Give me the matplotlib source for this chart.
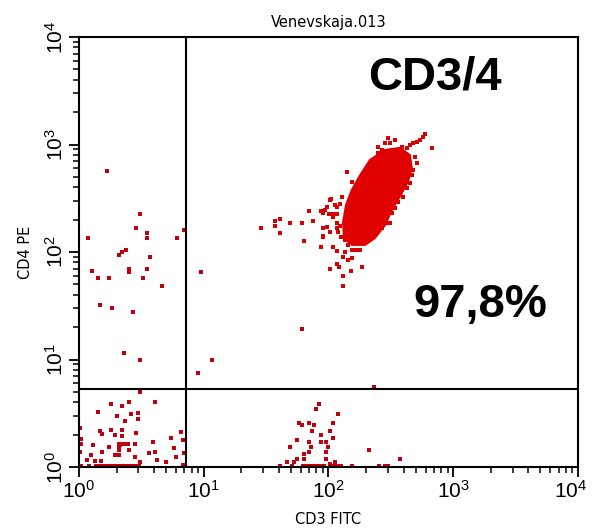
import numpy as np
import matplotlib
matplotlib.use("Agg")
import matplotlib.pyplot as plt
from matplotlib.ticker import LogLocator, FuncFormatter, NullFormatter
from matplotlib.transforms import ScaledTranslation

plt.rcParams["font.family"] = ["Liberation Sans", "DejaVu Sans"]

# --- events, stored as 1024-channel log values ----------------------------------
# (4 decades over 1024 channels, the CellQuest convention)
# upper-left quadrant
UL_X = [57, 125, 117, 140, 140, 18, 201, 215, 96, 88, 82, 146, 103, 103, 140, 27,
        39, 62, 131, 170, 43, 68, 111, 92, 125]
UL_Y = [705, 602, 569, 557, 545, 545, 545, 564, 517, 512, 505, 500, 471, 464, 471,
        467, 450, 450, 450, 431, 386, 379, 369, 271, 255]

# stray events just right of the vertical gate
MID_X = [250, 273, 244, 605, 458]
MID_Y = [464, 255, 224, 191, 329]

# lower-left quadrant (debris / double negative)
LL_X = [125, 156, 103, 66, 88, 39, 121, 78, 107, 121, 94, 2, 43, 66, 88, 117, 47,
        74, 88, 209, 4, 189, 213, 152, 84, 115, 4, 29, 62, 103, 144, 47, 2, 25, 74,
        82, 195, 199, 156, 115, 215, 16, 33, 45, 125, 160, 179, 213, 4, 21,
        82, 88, 94, 101, 82, 82,
        35, 38, 44, 47, 53, 56, 61, 66, 69, 74, 78, 81, 86, 90, 95, 99, 104, 108,
        113, 117, 124]
LL_Y = [179, 155, 155, 150, 145, 131, 129, 121, 126, 114, 110, 93, 86, 88, 88, 81,
        79, 76, 74, 83, 67, 69, 64, 60, 52, 55, 55, 52, 48, 40, 33, 36, 36, 29, 29,
        29, 45, 24, 36, 24, 33, 17, 14, 14, 12, 17, 12, 5, 2, 2,
        55, 55, 55, 55, 48, 40,
        2, 2, 2, 2, 2, 2, 2, 2, 2, 2, 2, 2, 2, 2, 2, 2, 2, 2, 2, 2, 2]

# lower-right quadrant
LR_X = [492, 486, 531, 451, 458, 472, 482, 521, 478, 515, 497, 521, 447, 472, 497,
        507, 433, 476, 511, 472, 507, 595, 462, 447, 462, 507, 427, 441, 515, 525,
        659, 560, 616, 628, 634, 412, 437,
        460, 466, 472, 478, 484, 490, 497, 503, 519, 525, 531, 538]
LR_Y = [150, 138, 126, 105, 100, 105, 100, 105, 86, 86, 76, 69, 64, 60, 60, 60, 48,
        48, 48, 36, 36, 40, 31, 19, 19, 19, 12, 12, 7, 12, 19, 2, 2, 2, 2, 2, 2,
        2, 2, 2, 2, 2, 2, 2, 2, 2, 2, 2, 2]

# CD3+CD4+ population: sparse events around the dense core
CL_X = [373, 402, 402, 412, 412, 433, 458, 472, 480, 462, 497, 497, 501, 501, 509,
        517, 513, 521, 515, 521, 529, 540, 529, 536, 529, 531, 529, 546, 542, 552,
        560, 529, 534, 515, 558, 542, 542, 581, 538, 546, 552, 560, 568, 577, 536,
        529,
        710, 706, 700, 694, 685, 679, 673, 634, 638, 653, 663, 724, 622, 614, 550,
        560, 689, 685, 683, 679, 659, 655, 632, 638, 622, 694, 673, 665, 648, 642,
        515, 525, 505, 501, 521, 509, 501, 521, 648, 628, 614]
CL_Y = [569, 586, 574, 591, 557, 581, 581, 610, 586, 538, 610, 524, 569, 550, 619,
        638, 602, 602, 560, 524, 602, 643, 619, 626, 581, 560, 514, 512, 500, 493,
        498, 483, 476, 471, 467, 455, 431, 476, 548, 541, 529, 517, 517, 517, 574,
        569,
        793, 786, 779, 774, 772, 767, 760, 783, 772, 755, 762, 760, 755, 748, 703,
        679, 738, 707, 695, 676, 655, 631, 581, 581, 569, 724, 664, 643, 617, 605,
        636, 624, 612, 605, 595, 572, 548, 524, 779, 772, 762]

# outline of the saturated core of the cluster
CORE_X = [628, 659, 679, 683, 675, 659, 642, 628, 607, 587, 560, 544, 542, 548,
          560, 577, 597]
CORE_Y = [755, 760, 743, 712, 679, 645, 612, 576, 545, 529, 529, 545, 583, 624,
          660, 695, 731]

GATE_X = 7.2   # vertical quadrant marker (CD3 FITC)
GATE_Y = 5.3   # horizontal quadrant marker (CD4 PE)


def ch2lin(ch):
    return 10 ** (np.asarray(ch, dtype=float) / 256.0)


fig = plt.figure(figsize=(5.92, 5.28), dpi=100)
ax = fig.add_axes([0.1334, 0.1155, 0.8429, 0.8144])

ax.fill(ch2lin(CORE_X), ch2lin(CORE_Y), color="#e00000", lw=1.5, ec="#e00000",
        zorder=2)
for xs, ys in ((UL_X, UL_Y), (MID_X, MID_Y), (LL_X, LL_Y), (LR_X, LR_Y)):
    ax.scatter(ch2lin(xs), ch2lin(ys), marker="s", s=5, c="#c0000f",
               linewidths=0, zorder=3)
ax.scatter(ch2lin(CL_X), ch2lin(CL_Y), marker="s", s=6, c="#d80000",
           linewidths=0, zorder=3)

ax.axvline(GATE_X, color="black", lw=1.5, zorder=4)
ax.axhline(GATE_Y, color="black", lw=1.5, zorder=4)

ax.set_xscale("log")
ax.set_yscale("log")
ax.set_xlim(1, 1e4)
ax.set_ylim(1, 1e4)

for a in (ax.xaxis, ax.yaxis):
    a.set_major_locator(LogLocator(base=10, numticks=10))
    a.set_minor_locator(LogLocator(base=10, subs=np.arange(2, 10), numticks=10))
    a.set_minor_formatter(NullFormatter())
    a.set_major_formatter(FuncFormatter(
        lambda v, pos: r"$\mathregular{10^{%d}}$" % round(np.log10(v))))

ax.tick_params(which="major", direction="out", length=7, width=1.3,
               labelsize=15, pad=2)
ax.tick_params(which="minor", direction="out", length=4.5, width=1.1)
ax.tick_params(axis="y", which="major", labelrotation=90)
for lab in ax.get_yticklabels():
    lab.set_va("center")

for sp in ax.spines.values():
    sp.set_linewidth(1.5)
    sp.set_zorder(5)

ax.set_title("Venevskaja.013", fontsize=10.5, pad=7, family="DejaVu Sans")
ax.set_xlabel("CD3 FITC", fontsize=10.5, family="DejaVu Sans")
ax.set_ylabel("CD4 PE", fontsize=10.5, family="DejaVu Sans")
ax.xaxis.set_label_coords(0.5, -0.105)
ax.yaxis.set_label_coords(-0.092, 0.5)

ax.text(0.713, 0.905, "CD3/4", transform=ax.transAxes, fontsize=34,
        fontweight="bold", ha="center", va="center")
ax.text(0.804, 0.377, "97,8%", transform=ax.transAxes, fontsize=34,
        fontweight="bold", ha="center", va="center")

# nudge the last x label (10^4) a few pixels left so it stays inside the figure
fig.canvas.draw()
for tick in ax.xaxis.get_major_ticks():
    if np.isclose(tick.get_loc(), 1e4):
        lab = tick.label1
        lab.set_transform(lab.get_transform()
                          + ScaledTranslation(-5 / 72, 0, fig.dpi_scale_trans))

fig.savefig("out.png", dpi=100)
